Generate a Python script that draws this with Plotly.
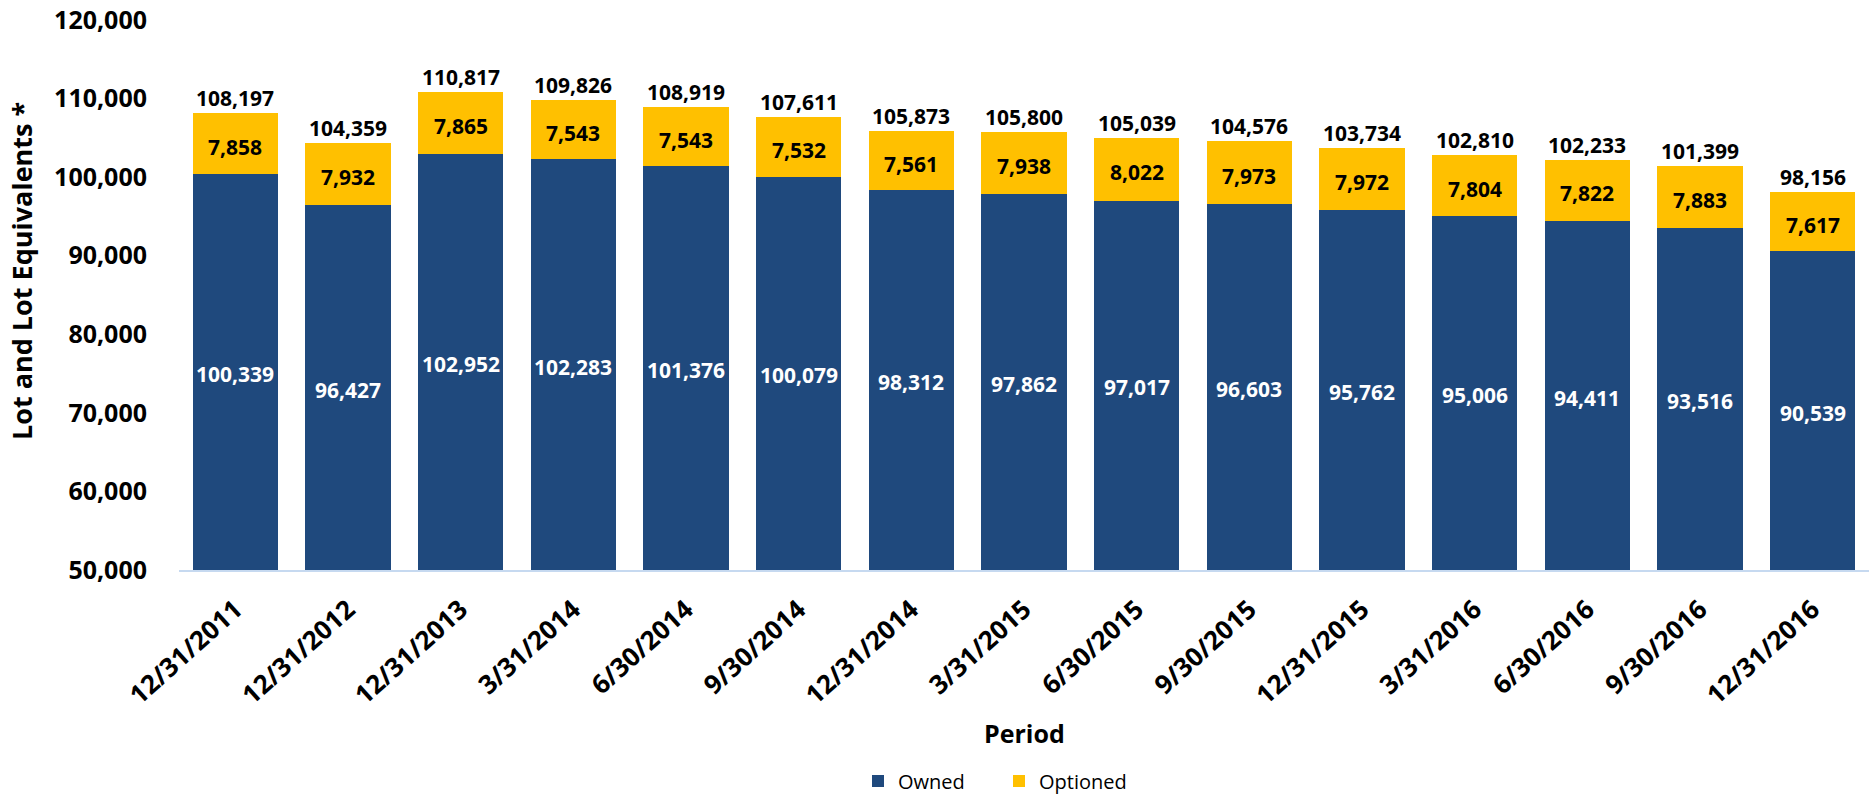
import plotly.graph_objects as go

periods = ["12/31/2011", "12/31/2012", "12/31/2013", "3/31/2014", "6/30/2014", "9/30/2014",
           "12/31/2014", "3/31/2015", "6/30/2015", "9/30/2015", "12/31/2015", "3/31/2016",
           "6/30/2016", "9/30/2016", "12/31/2016"]
owned = [100339, 96427, 102952, 102283, 101376, 100079, 98312, 97862, 97017, 96603,
         95762, 95006, 94411, 93516, 90539]
optioned = [7858, 7932, 7865, 7543, 7543, 7532, 7561, 7938, 8022, 7973, 7972, 7804,
            7822, 7883, 7617]
totals = [108197, 104359, 110817, 109826, 108919, 107611, 105873, 105800, 105039, 104576,
          103734, 102810, 102233, 101399, 98156]
y_tickvals = [50000, 60000, 70000, 80000, 90000, 100000, 110000, 120000]

YMIN, YMAX = 50000, 120000
FONT = "Open Sans"
OWNED_C = "#1F497D"
OPT_C = "#FFC000"

W, H = 1869, 800
ML, MR, MT, MB = 179, 0, 20, 230
PW, PH = W - ML - MR, H - MT - MB

fig = go.Figure()
fig.add_trace(go.Bar(x=periods, y=owned, name="Owned", marker=dict(color=OWNED_C, line=dict(width=0))))
fig.add_trace(go.Bar(x=periods, y=optioned, name="Optioned", marker=dict(color=OPT_C, line=dict(width=0))))

annotations = []
for p, o, op, t in zip(periods, owned, optioned, totals):
    annotations.append(dict(x=p, y=(YMIN + o) / 2, text=f"{o:,}", showarrow=False,
                            yanchor="middle", yshift=-2,
                            font=dict(family=FONT, size=21, color="white", weight="bold")))
    annotations.append(dict(x=p, y=o + op / 2, text=f"{op:,}", showarrow=False,
                            yanchor="middle", yshift=-3,
                            font=dict(family=FONT, size=21, color="black", weight="bold")))
    annotations.append(dict(x=p, y=t, text=f"{t:,}", showarrow=False,
                            yanchor="bottom", yshift=-1,
                            font=dict(family=FONT, size=21, color="black", weight="bold")))

# axis titles as annotations for precise placement
annotations.append(dict(xref="paper", yref="paper", x=(21 - ML) / PW, y=(H - MB - 271) / PH,
                        text="Lot and Lot Equivalents *", textangle=-90, showarrow=False,
                        xanchor="center", yanchor="middle",
                        font=dict(family=FONT, size=27, color="black", weight="bold")))
annotations.append(dict(xref="paper", yref="paper", x=0.5, y=(H - MB - 733) / PH,
                        text="Period", showarrow=False, xanchor="center", yanchor="middle",
                        font=dict(family=FONT, size=25, color="black", weight="bold")))

fig.update_layout(
    barmode="stack",
    bargap=0.24,
    width=W, height=H,
    margin=dict(l=ML, r=MR, t=MT, b=MB, autoexpand=False),
    plot_bgcolor="white", paper_bgcolor="white",
    font=dict(family=FONT, color="black"),
    annotations=annotations,
    legend=dict(orientation="h", x=(858 - ML) / PW, xanchor="left",
                y=(H - MB - 781) / PH, yanchor="middle",
                font=dict(family=FONT, size=20), traceorder="normal",
                itemwidth=30, entrywidth=96, entrywidthmode="pixels"),
    xaxis=dict(
        range=[-0.5, len(periods) - 0.5],
        tickangle=-42, tickfont=dict(family=FONT, size=26, weight="bold"),
        ticks="outside", ticklen=12, tickcolor="rgba(0,0,0,0)",
        showline=True, linecolor="#C6D9F0", linewidth=2, showgrid=False,
        automargin=False,
    ),
    yaxis=dict(
        range=[YMIN, YMAX], tickvals=y_tickvals, tickformat=",",
        tickfont=dict(family=FONT, size=25, weight="bold"),
        ticks="outside", ticklen=26, tickcolor="rgba(0,0,0,0)",
        showgrid=False, zeroline=False, showline=False,
        automargin=False,
    ),
)
fig.write_html("out.html")
